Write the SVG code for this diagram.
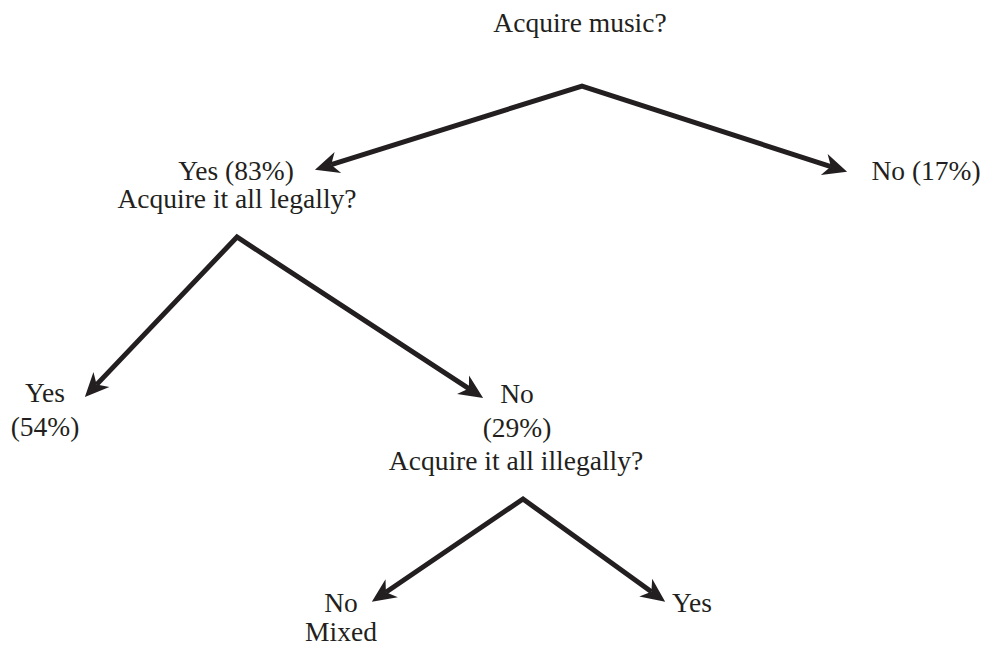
<svg xmlns="http://www.w3.org/2000/svg" width="983" height="646" viewBox="0 0 983 646">
  <style>
    .t { font-family: "Palatino Linotype", "Book Antiqua", Palatino, "Liberation Serif", serif; font-size: 27.5px; fill: #231f20; text-anchor: middle; }
    .c { fill: none; stroke: #231f20; stroke-width: 5; stroke-linejoin: miter; stroke-miterlimit: 10; marker-start: url(#ah); marker-end: url(#ah); }
  </style>
  <defs>
    <marker id="ah" viewBox="-10 -14 30 28" markerWidth="30" markerHeight="28" refX="0" refY="0" markerUnits="userSpaceOnUse" orient="auto-start-reverse">
      <path d="M17,0 L-7,-11 L0,0 L-7,11 Z" fill="#231f20"/>
    </marker>
  </defs>
  <rect width="983" height="646" fill="#ffffff"/>

  <g id="connectors">
    <polyline class="c" points="331.2,164.7 582,86 830.9,166.6"/>
    <polyline class="c" points="96.6,384.6 237,237 468.9,388.6"/>
    <polyline class="c" points="385.9,592.2 523,499 651.4,591.8"/>
  </g>

  <g id="n-root">
    <text class="t" x="580" y="32">Acquire music?</text>
  </g>
  <g id="n-yes83">
    <text class="t" x="236" y="180">Yes (83%)</text>
    <text class="t" x="237" y="208">Acquire it all legally?</text>
  </g>
  <g id="n-no17">
    <text class="t" x="926" y="180">No (17%)</text>
  </g>
  <g id="n-yes54">
    <text class="t" x="45" y="402">Yes</text>
    <text class="t" x="45" y="436">(54%)</text>
  </g>
  <g id="n-no29">
    <text class="t" x="517" y="403">No</text>
    <text class="t" x="517" y="437">(29%)</text>
    <text class="t" x="516" y="470">Acquire it all illegally?</text>
  </g>
  <g id="n-nomixed">
    <text class="t" x="341" y="612">No</text>
    <text class="t" x="341" y="641">Mixed</text>
  </g>
  <g id="n-yes">
    <text class="t" x="692" y="612">Yes</text>
  </g>
</svg>
